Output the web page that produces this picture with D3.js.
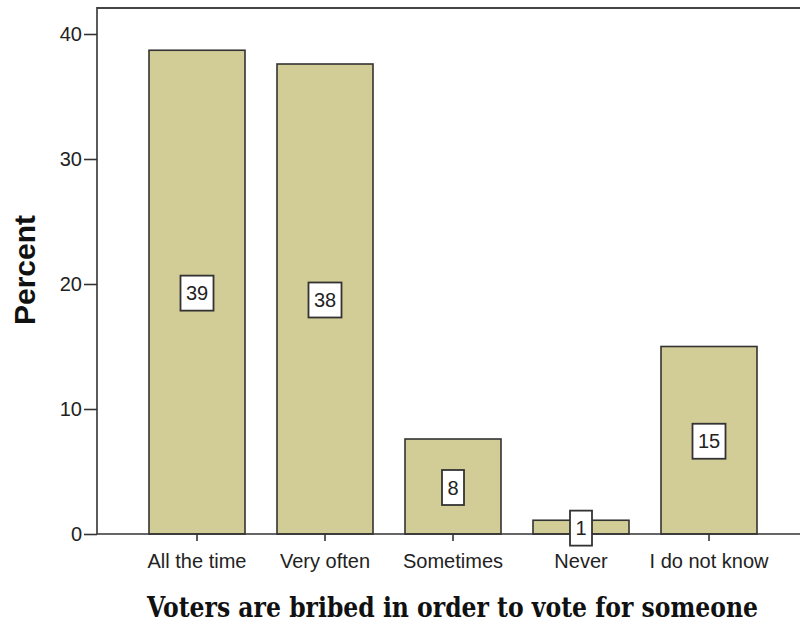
<script src="https://cdn.jsdelivr.net/npm/d3@7"></script>
<style>
body { margin: 0; background: #fff; }
.tick text { font: 20px Arial, "Liberation Sans", sans-serif; fill: #222; }
.bar { fill: #d2cd96; stroke: #333; stroke-width: 1.6px; }
.lbl-box { fill: #fff; stroke: #333; stroke-width: 1.8px; }
.lbl { font: 20px Arial, "Liberation Sans", sans-serif; fill: #222; }
</style>
<div id="chart"></div>
<script>
var categories = ["All the time", "Very often", "Sometimes", "Never", "I do not know"];
var percents   = [38.7, 37.6, 7.6, 1.1, 15.0];
var labels     = ["39", "38", "8", "1", "15"];
var yTicks     = [0, 10, 20, 30, 40];

var W = 800, H = 626;
var mLeft = 97, mTop = 8, mBottom = 534;

var svg = d3.select("#chart").append("svg")
    .attr("width", W)
    .attr("height", H);

var x = d3.scaleBand().domain(categories).range([133, 773])
    .paddingInner(0.25).paddingOuter(0.125);
var y = d3.scaleLinear().domain([0, 40]).range([mBottom, 34]);

// frame
svg.append("line")
    .attr("x1", mLeft).attr("x2", W)
    .attr("y1", mTop).attr("y2", mTop)
    .attr("stroke", "#444").attr("stroke-width", 2);
svg.append("line")
    .attr("x1", mLeft).attr("x2", mLeft)
    .attr("y1", mTop - 1).attr("y2", mBottom)
    .attr("stroke", "#333").attr("stroke-width", 1.6);

// bars
svg.selectAll(".bar")
    .data(categories)
  .enter().append("rect")
    .attr("class", "bar")
    .attr("x", d => x(d))
    .attr("width", x.bandwidth())
    .attr("y", (d, i) => y(percents[i]))
    .attr("height", (d, i) => y(0) - y(percents[i]));

// y axis
var yAxis = svg.append("g")
    .attr("transform", "translate(" + mLeft + ",0)")
    .call(d3.axisLeft(y).tickValues(yTicks).tickSize(13).tickPadding(2));
yAxis.select(".domain").remove();
yAxis.selectAll(".tick line").attr("stroke", "#333").attr("stroke-width", 1.6);

// x axis
var xAxis = svg.append("g")
    .attr("transform", "translate(0," + mBottom + ")")
    .call(d3.axisBottom(x).tickSize(7).tickPadding(13).tickSizeOuter(0));
xAxis.select(".domain").attr("d", "M" + mLeft + ",0H" + W)
    .attr("stroke", "#333").attr("stroke-width", 1.6);
xAxis.selectAll(".tick line").attr("stroke", "#333").attr("stroke-width", 1.6);

// value labels
var lg = svg.selectAll(".lblg")
    .data(categories)
  .enter().append("g")
    .attr("transform", (d, i) => "translate(" + (x(d) + x.bandwidth() / 2) + "," + (y(percents[i] / 2) + 1) + ")");
lg.append("rect")
    .attr("class", "lbl-box")
    .attr("x", (d, i) => -(labels[i].length * 11 + 11) / 2)
    .attr("width", (d, i) => labels[i].length * 11 + 11)
    .attr("y", -17.5).attr("height", 35);
lg.append("text")
    .attr("class", "lbl")
    .attr("text-anchor", "middle")
    .attr("dy", "0.36em")
    .text((d, i) => labels[i]);

// axis titles
svg.append("text")
    .attr("x", 147).attr("y", 617)
    .attr("textLength", 611)
    .attr("lengthAdjust", "spacingAndGlyphs")
    .style("font", "bold 28px 'DejaVu Serif', 'Liberation Serif', serif")
    .attr("fill", "#111")
    .text("Voters are bribed in order to vote for someone");

svg.append("text")
    .attr("transform", "translate(35,270) rotate(-90)")
    .attr("text-anchor", "middle")
    .style("font", "bold 30px Arial, 'Liberation Sans', sans-serif")
    .attr("fill", "#111")
    .text("Percent");
</script>
